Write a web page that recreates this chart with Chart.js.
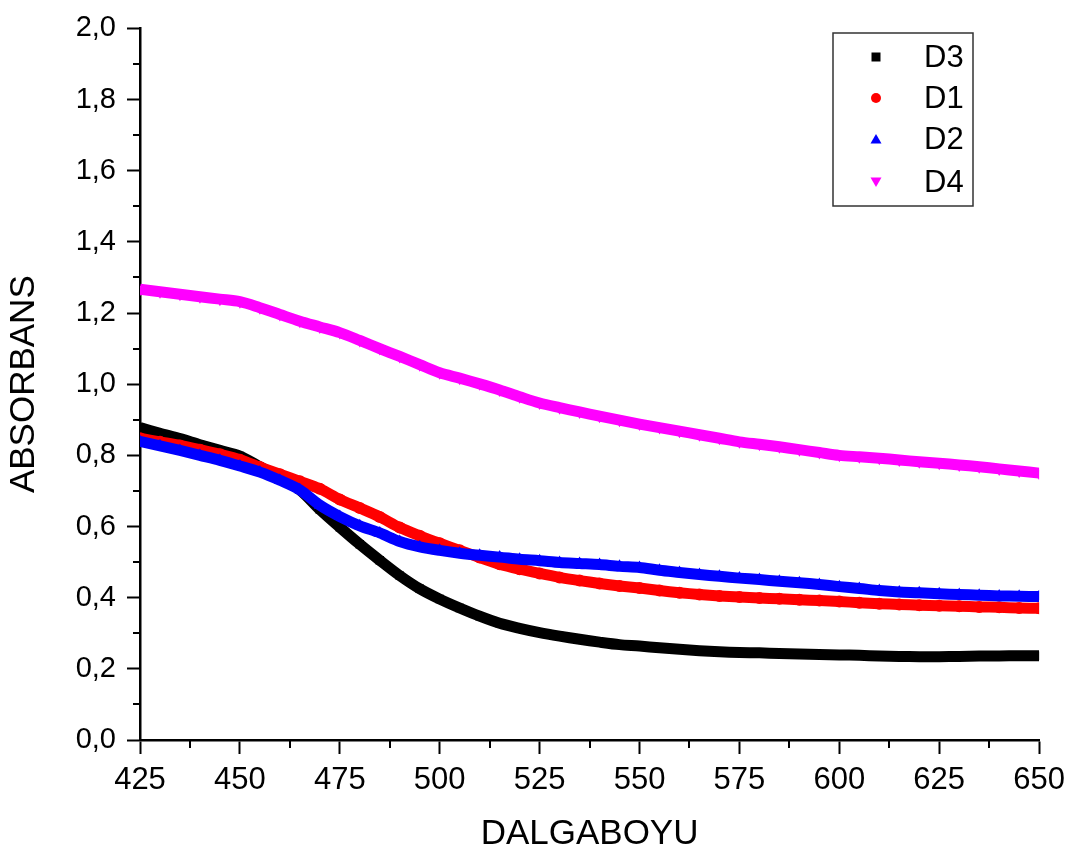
<!DOCTYPE html>
<html>
<head>
<meta charset="utf-8">
<style>
html,body{margin:0;padding:0;background:#fff;}
#wrap{position:relative;width:1073px;height:858px;}
</style>
<script src="https://cdn.jsdelivr.net/npm/chart.js@4/dist/chart.umd.min.js"></script>
</head>
<body>
<div id="wrap"><canvas id="c" width="1073" height="858"></canvas></div>
<script>
// ---- data ----
const wavelengths = [425,430,435,440,445,450,455,460,465,470,475,480,485,490,495,500,505,510,515,520,525,530,535,540,545,550,555,560,565,570,575,580,585,590,595,600,605,610,615,620,625,630,635,640,645,650];
const D3 = [0.878,0.862,0.847,0.830,0.814,0.798,0.768,0.737,0.703,0.648,0.598,0.550,0.505,0.462,0.425,0.396,0.371,0.348,0.328,0.314,0.302,0.292,0.283,0.275,0.268,0.264,0.259,0.255,0.251,0.248,0.246,0.245,0.243,0.242,0.240,0.239,0.238,0.236,0.235,0.234,0.234,0.235,0.236,0.236,0.237,0.237];
const D1 = [0.848,0.838,0.828,0.816,0.803,0.788,0.767,0.747,0.727,0.706,0.676,0.652,0.627,0.597,0.574,0.553,0.533,0.513,0.494,0.480,0.468,0.457,0.448,0.440,0.433,0.427,0.420,0.414,0.409,0.405,0.402,0.399,0.397,0.394,0.392,0.389,0.386,0.383,0.381,0.379,0.377,0.376,0.374,0.373,0.371,0.370];
const D2 = [0.839,0.827,0.814,0.800,0.786,0.770,0.753,0.730,0.703,0.660,0.628,0.602,0.582,0.558,0.543,0.533,0.525,0.519,0.514,0.508,0.504,0.499,0.496,0.493,0.488,0.485,0.477,0.471,0.465,0.460,0.455,0.451,0.446,0.442,0.437,0.431,0.426,0.420,0.416,0.414,0.411,0.409,0.407,0.405,0.404,0.403];
const D4 = [1.267,1.260,1.253,1.246,1.239,1.232,1.215,1.196,1.177,1.161,1.145,1.123,1.100,1.078,1.055,1.032,1.017,1.001,0.984,0.965,0.947,0.934,0.922,0.910,0.899,0.888,0.878,0.868,0.858,0.848,0.838,0.831,0.824,0.816,0.808,0.800,0.796,0.792,0.787,0.782,0.778,0.773,0.768,0.762,0.756,0.750];
const seriesLabels = ['D3','D1','D2','D4'];
const xTicks = [425,450,475,500,525,550,575,600,625,650];
const xMinorTicks = [437.5,462.5,487.5,512.5,537.5,562.5,587.5,612.5,637.5];
const yTicks = [0,0.2,0.4,0.6,0.8,1.0,1.2,1.4,1.6,1.8,2.0];
const yMinorTicks = [0.1,0.3,0.5,0.7,0.9,1.1,1.3,1.5,1.7,1.9];

const FONT = "'Liberation Sans', Arial, sans-serif";

function pts(arr){ return wavelengths.map((w,i)=>({x:w,y:arr[i]})); }

const styles = {
  D3:{color:'#000000', pointStyle:'rect', rotation:0, order:4, radius:6},
  D1:{color:'#ff0000', pointStyle:'circle', rotation:0, order:3, radius:6},
  D2:{color:'#0000ff', pointStyle:'triangle', rotation:0, order:2, radius:7},
  D4:{color:'#ff00ff', pointStyle:'triangle', rotation:180, order:1, radius:7}
};
const values = {D3, D1, D2, D4};

const datasets = seriesLabels.map(l=>({
  label:l,
  data:pts(values[l]),
  borderColor:styles[l].color,
  backgroundColor:styles[l].color,
  borderWidth:11,
  borderJoinStyle:'round',
  pointStyle:styles[l].pointStyle,
  rotation:styles[l].rotation,
  pointRadius:styles[l].radius,
  pointBorderWidth:0,
  pointBackgroundColor:styles[l].color,
  tension:0.3,
  order:styles[l].order,
  clip:0
}));

const minorTicks = {
  id:'minorTicks',
  afterDraw(chart){
    const ctx = chart.ctx;
    const xs = chart.scales.x, ys = chart.scales.y;
    ctx.save();
    ctx.strokeStyle = '#000';
    ctx.lineWidth = 2;
    ctx.beginPath();
    xMinorTicks.forEach(v=>{
      const px = Math.round(xs.getPixelForValue(v));
      ctx.moveTo(px, xs.top); ctx.lineTo(px, xs.top+8);
    });
    yMinorTicks.forEach(v=>{
      const py = Math.round(ys.getPixelForValue(v));
      ctx.moveTo(ys.right, py); ctx.lineTo(ys.right-7, py);
    });
    ctx.stroke();
    ctx.restore();
  }
};

const boxLegend = {
  id:'boxLegend',
  afterDraw(chart){
    const ctx = chart.ctx;
    const left = 833, top = 33, w = 140, h = 173;
    const rowsY = [57, 98, 139, 182];
    ctx.save();
    ctx.fillStyle = '#fff';
    ctx.fillRect(left, top, w, h);
    ctx.strokeStyle = '#333';
    ctx.lineWidth = 1.5;
    ctx.strokeRect(left, top, w, h);
    chart.data.datasets.forEach((ds,i)=>{
      const y = rowsY[i], x = 876;
      ctx.fillStyle = ds.backgroundColor;
      ctx.beginPath();
      if (ds.pointStyle === 'rect') {
        ctx.rect(x-4.5, y-4.5, 9, 9);
      } else if (ds.pointStyle === 'circle') {
        ctx.arc(x, y, 5, 0, Math.PI*2);
      } else if (ds.rotation === 180) {
        ctx.moveTo(x-5.5, y-4.5); ctx.lineTo(x+5.5, y-4.5); ctx.lineTo(x, y+5);
      } else {
        ctx.moveTo(x-5.5, y+4.5); ctx.lineTo(x+5.5, y+4.5); ctx.lineTo(x, y-5);
      }
      ctx.closePath();
      ctx.fill();
      ctx.fillStyle = '#000';
      ctx.font = '31px ' + FONT;
      ctx.textBaseline = 'middle';
      ctx.textAlign = 'left';
      ctx.fillText(ds.label, 924, y+1);
    });
    ctx.restore();
  }
};

new Chart(document.getElementById('c'), {
  type:'line',
  data:{datasets},
  plugins:[minorTicks, boxLegend],
  options:{
    responsive:false,
    animation:false,
    devicePixelRatio:1,
    layout:{padding:{top:15,right:33,left:0,bottom:0}},
    plugins:{legend:{display:false}, tooltip:{enabled:false}},
    scales:{
      x:{
        type:'linear', position:'bottom', min:425, max:650,
        afterBuildTicks(s){ s.ticks = xTicks.map(v=>({value:v})); },
        afterFit(s){ s.height = 118; },
        ticks:{color:'#000', font:{family:FONT,size:31}, padding:8, maxRotation:0, autoSkip:false},
        grid:{display:true, drawOnChartArea:false, drawTicks:true, tickLength:14, tickWidth:2, tickColor:'#000'},
        border:{display:true, color:'#000', width:2.5},
        title:{display:true, text:'DALGABOYU', color:'#000', font:{family:FONT,size:35}, padding:{top:0,bottom:3}}
      },
      y:{
        type:'linear', position:'left', min:0, max:2,
        afterBuildTicks(s){ s.ticks = yTicks.map(v=>({value:v})); },
        afterFit(s){ s.width = 140; },
        ticks:{color:'#000', font:{family:FONT,size:29}, padding:11,
          callback:(v)=>Number(v).toFixed(1).replace('.',',')},
        grid:{display:true, drawOnChartArea:false, drawTicks:true, tickLength:13, tickWidth:2, tickColor:'#000'},
        border:{display:true, color:'#000', width:2.5},
        title:{display:true, text:'ABSORBANS', color:'#000', font:{family:FONT,size:35}, padding:{top:3,bottom:0}}
      }
    }
  }
});
</script>
</body>
</html>
